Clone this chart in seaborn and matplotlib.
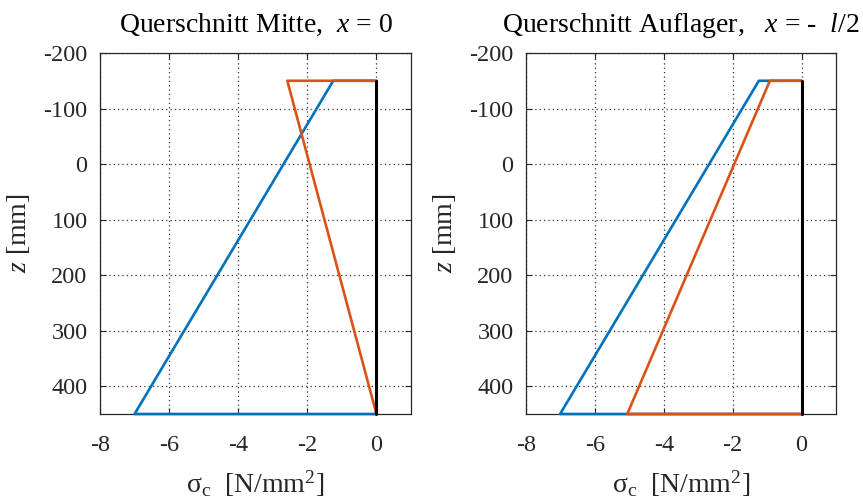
import matplotlib
matplotlib.use("Agg")
import matplotlib.pyplot as plt
import seaborn as sns
import pandas as pd

# ---- data ----
z_top = -150
z_bottom = 450
# left: Querschnitt Mitte (x = 0)
mitte_blue = [-1.25, -7.0]     # sigma at z_top, z_bottom
mitte_orange = [-2.58, 0.0]
# right: Querschnitt Auflager (x = -l/2)
auflager_blue = [-1.24, -7.01]
auflager_orange = [-0.92, -5.06]

x_ticks = [-8, -6, -4, -2, 0]
y_ticks = [-200, -100, 0, 100, 200, 300, 400]
titles = [r"Querschnitt Mitte,  $x$ = 0", r"Querschnitt Auflager,   $x$ = -  $l$/2"]

BLUE = "#0072BD"
ORANGE = "#D95319"

sns.set_theme(style="white")
plt.rcParams["font.family"] = ["Liberation Serif", "DejaVu Serif"]
plt.rcParams["mathtext.fontset"] = "custom"
plt.rcParams["mathtext.rm"] = "Liberation Serif"
plt.rcParams["mathtext.it"] = "Liberation Serif:italic"
plt.rcParams["mathtext.bf"] = "Liberation Serif:bold"
plt.rcParams["axes.unicode_minus"] = False

fig = plt.figure(figsize=(8.63, 5.01), dpi=100)
W, H = 863, 501
axL = fig.add_axes([100 / W, 1 - 414 / H, 311 / W, 361 / H])
axR = fig.add_axes([526 / W, 1 - 414 / H, 310 / W, 361 / H])


def poly(vals):
    return pd.DataFrame({"s": [0, vals[0], vals[1], 0],
                         "z": [z_top, z_top, z_bottom, z_bottom]})


for ax, blue, orange, title in [(axL, mitte_blue, mitte_orange, titles[0]),
                                (axR, auflager_blue, auflager_orange, titles[1])]:
    ax.set_xlim(-8, 1)
    ax.set_ylim(450, -200)
    ax.set_xticks(x_ticks)
    ax.set_yticks(y_ticks)
    ax.grid(True, color="#333333", linestyle=(0, (1, 2.5)), linewidth=0.9)
    ax.set_axisbelow(True)
    sns.lineplot(data=poly(blue), x="s", y="z", sort=False, estimator=None,
                 color=BLUE, linewidth=1.9, ax=ax, clip_on=False, zorder=3)
    sns.lineplot(data=poly(orange), x="s", y="z", sort=False, estimator=None,
                 color=ORANGE, linewidth=1.9, ax=ax, clip_on=False, zorder=3)
    sns.lineplot(x=[0, 0], y=[z_top, z_bottom], sort=False, estimator=None,
                 color="black", linewidth=2.2, ax=ax, clip_on=False, zorder=3)
    ax.set_xlim(-8, 1)
    ax.set_ylim(450, -200)
    for sp in ax.spines.values():
        sp.set_visible(True)
        sp.set_color("#262626")
        sp.set_linewidth(0.9)
    ax.tick_params(direction="in", length=4, width=0.8, colors="#262626",
                   labelsize=17.5, top=True, right=True, bottom=True, left=True)
    ax.tick_params(axis="x", pad=15, labelcolor="#262626")
    ax.tick_params(axis="y", pad=9, labelcolor="#262626")
    ax.set_xlabel(r"$\mathrm{\sigma}_\mathrm{c}$  [N/mm$^2$]", fontsize=20,
                  color="#262626", labelpad=9)
    ax.set_ylabel(r"$z$ [mm]", fontsize=20, color="#262626", labelpad=8)
    ax.set_title(title, fontsize=20, color="black", pad=15)

fig.savefig("out.png", dpi=100)
